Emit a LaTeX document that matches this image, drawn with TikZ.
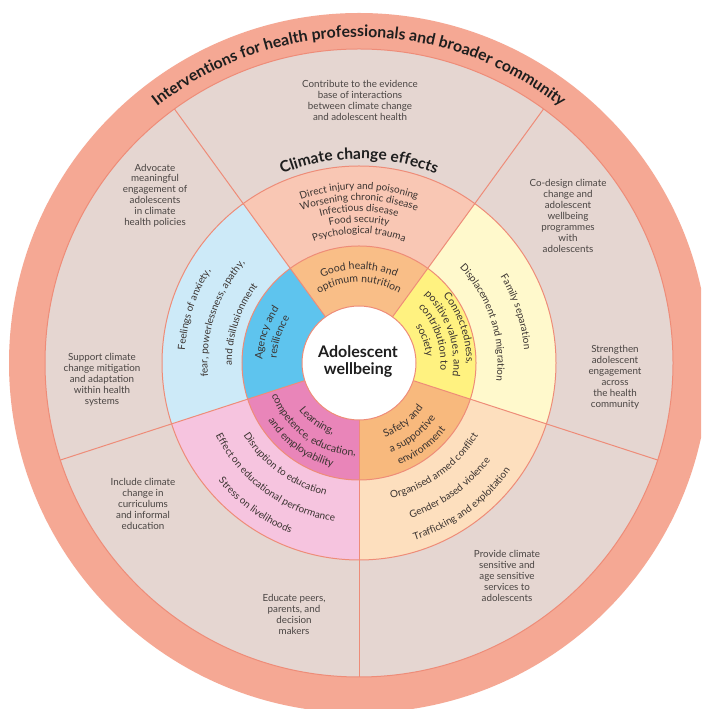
\documentclass[tikz,border=0pt]{standalone}
\usepackage{fontspec}
\setmainfont{Lato}
\usetikzlibrary{calc,decorations.text}
\definecolor{bandc}{HTML}{F5A894}
\definecolor{beigec}{HTML}{E5D6D1}
\definecolor{lnc}{HTML}{EE8C78}
\definecolor{cTop}{HTML}{F9C7B4}
\definecolor{cBlue}{HTML}{CDEAF8}
\definecolor{cPink}{HTML}{F6C4DF}
\definecolor{cPeach}{HTML}{FDDFBE}
\definecolor{cYel}{HTML}{FFF9CC}
\definecolor{iOrange}{HTML}{F9BE87}
\definecolor{iBlue}{HTML}{5EC4EE}
\definecolor{iPink}{HTML}{E985B9}
\definecolor{iSafe}{HTML}{F8B97D}
\definecolor{iYel}{HTML}{FFF280}
\definecolor{txtg}{HTML}{4A4543}
\definecolor{txtd}{HTML}{3A3330}
\definecolor{txtb}{HTML}{1E1E1E}
\newcommand\fClim{\fontsize{10}{12}\selectfont}
\newcommand\fInner{\fontsize{10.5}{12}\selectfont}
\newcommand\fTitle{\fontsize{15.8}{17}\selectfont\bfseries}
\newcommand\fHead{\fontsize{15.5}{17}\selectfont\bfseries}
\newcommand\ringsector[4]{\fill[#1] (C) -- ($(C)+(#2:#4pt)$) arc[start angle=#2,end angle=#3,radius=#4pt] -- cycle;}
\newcommand\cwtext[5]{\path[decorate,decoration={text along path,text align=center,text color=#5,text={|#3|#4}}] ($(C)+({#2+58}:#1pt)$) arc[start angle={#2+58},end angle={#2-58},radius=#1pt];}
\newcommand\ccwtext[5]{\path[decorate,decoration={text along path,text align=center,text color=#5,text={|#3|#4}}] ($(C)+({#2-58}:#1pt)$) arc[start angle={#2-58},end angle={#2+58},radius=#1pt];}
\begin{document}
\begin{tikzpicture}[x=1pt,y=1pt,
  otext/.style={align=center,inner sep=0pt,text=txtg,font=\fontsize{9.8}{10.9}\selectfont},
  ctr/.style={align=center,inner sep=0pt,text=txtb,font=\fontsize{16}{17}\selectfont\bfseries},
  ringline/.style={draw=lnc,line width=1pt}]
\useasboundingbox (0,0) rectangle (701,709);
\clip (0,0) rectangle (701,709);
\fill[white] (0,0) rectangle (701,709);
\coordinate (C) at (359,346);
% outer band and beige ring
\fill[bandc] (C) circle[radius=350pt];
\fill[beigec] (C) circle[radius=314pt];
% climate ring sectors
\ringsector{cTop}{54}{126}{197}
\ringsector{cBlue}{126}{198}{197}
\ringsector{cPink}{198}{270}{197}
\ringsector{cPeach}{270}{342}{197}
\ringsector{cYel}{-18}{54}{197}
% inner ring sectors
\ringsector{iOrange}{54}{126}{117}
\ringsector{iBlue}{126}{198}{117}
\ringsector{iPink}{198}{270}{117}
\ringsector{iSafe}{270}{342}{117}
\ringsector{iYel}{-18}{54}{117}
% spokes
\foreach \a in {54,126,198,270,342}
  \draw[ringline] ($(C)+(\a:57pt)$) -- ($(C)+(\a:314pt)$);
% ring outlines
\draw[ringline] (C) circle[radius=314pt];
\draw[ringline] (C) circle[radius=197pt];
\draw[ringline] (C) circle[radius=117pt];
\filldraw[fill=white,draw=lnc,line width=1pt] (C) circle[radius=57pt];
% centre
\node[ctr] (centre) at (358,347) {Adolescent\\wellbeing};
% title along outer band
\cwtext{326}{90}{\fTitle}{Interventions for health professionals and broader community}{txtb}
% climate change effects heading
\cwtext{204}{90}{\fHead}{Climate change effects}{txtb}
% top climate sector
\cwtext{173.5}{90}{\fClim}{Direct injury and poisoning}{txtd}
\cwtext{162.5}{90}{\fClim}{Worsening chronic disease}{txtd}
\cwtext{151.5}{90}{\fClim}{Infectious disease}{txtd}
\cwtext{140.5}{90}{\fClim}{Food security}{txtd}
\cwtext{129.5}{90}{\fClim}{Psychological trauma}{txtd}
% blue climate sector
\cwtext{174.5}{162}{\fClim}{Feelings of anxiety,}{txtd}
\cwtext{151.5}{162}{\fClim}{fear, powerlessness, apathy,}{txtd}
\cwtext{127}{162}{\fClim}{and disillusionment}{txtd}
% yellow climate sector
\cwtext{165.5}{18}{\fClim}{Family separation}{txtd}
\cwtext{138.5}{18}{\fClim}{Displacement and migration}{txtd}
% pink climate sector
\ccwtext{136.5}{234}{\fClim}{Disruption to education}{txtd}
\ccwtext{160.5}{234}{\fClim}{Effect  on educational performance}{txtd}
\ccwtext{183.5}{234}{\fClim}{Stress on livelihoods}{txtd}
% peach climate sector
\ccwtext{139.5}{306}{\fClim}{Organised armed conflict}{txtd}
\ccwtext{163.5}{306}{\fClim}{Gender based violence}{txtd}
\ccwtext{185.5}{306}{\fClim}{Trafficking and exploitation}{txtd}
% inner ring
\cwtext{93.5}{90}{\fInner}{Good health and}{txtd}
\cwtext{80.5}{90}{\fInner}{optimum nutrition}{txtd}
\cwtext{96.5}{162}{\fInner}{Agency and}{txtd}
\cwtext{82.5}{162}{\fInner}{resilience}{txtd}
\cwtext{107.5}{19}{\fInner}{Connectedness,}{txtd}
\cwtext{94.5}{19}{\fInner}{positive values, and}{txtd}
\cwtext{81.5}{19}{\fInner}{contribution to}{txtd}
\cwtext{67.5}{19}{\fInner}{society}{txtd}
\ccwtext{76.5}{234}{\fInner}{Learning,}{txtd}
\ccwtext{93}{234}{\fInner}{competence, education,}{txtd}
\ccwtext{107.5}{234}{\fInner}{and employability}{txtd}
\ccwtext{78.5}{307}{\fInner}{Safety and}{txtd}
\ccwtext{94.5}{307}{\fInner}{a supportive}{txtd}
\ccwtext{109.5}{307}{\fInner}{environment}{txtd}
% outer band interventions
\node[otext] (i1) at (360,608.5) {Contribute to the evidence\\base of interactions\\between climate change\\and adolescent health};
\node[otext] (i2) at (155,513.5) {Advocate\\meaningful\\engagement of\\adolescents\\in climate\\health policies};
\node[otext] (i3) at (102,329) {Support climate\\change mitigation\\and adaptation\\within health\\systems};
\node[otext] (i4) at (143,205) {Include climate\\change in\\curriculums\\and informal\\education};
\node[otext] (i5) at (294,94.5) {Educate peers,\\parents, and\\decision\\makers};
\node[otext] (i6) at (507,133) {Provide climate\\sensitive and\\age sensitive\\services to\\adolescents};
\node[otext] (i7) at (615,332) {Strengthen\\adolescent\\engagement\\across\\the health\\community};
\node[otext] (i8) at (568,493) {Co-design climate\\change and\\adolescent\\wellbeing\\programmes\\with\\adolescents};
\end{tikzpicture}
\end{document}
